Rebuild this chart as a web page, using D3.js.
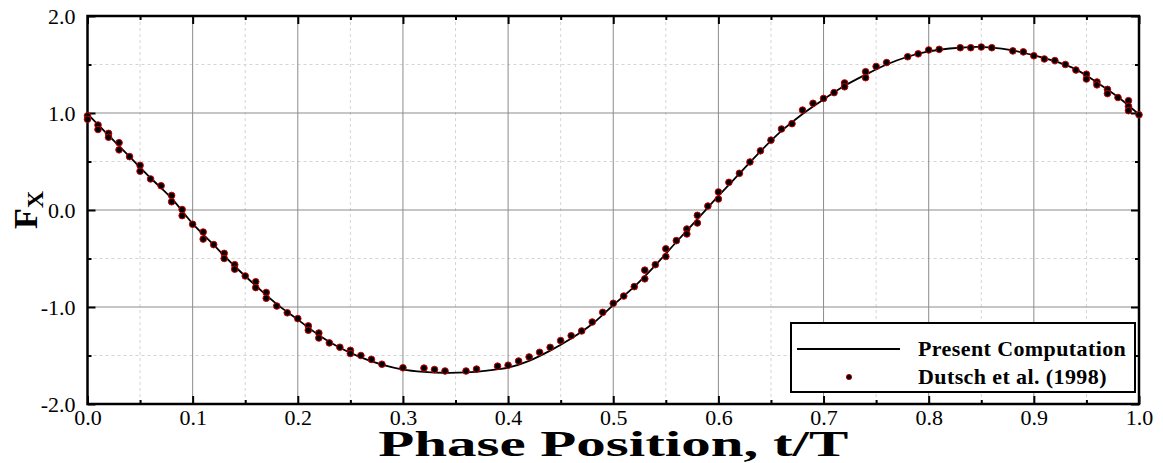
<!DOCTYPE html>
<html>
<head>
<meta charset="utf-8">
<script src="https://cdn.jsdelivr.net/npm/d3@7"></script>
<style>
  body { margin: 0; background: #fff; }
  svg { display: block; font-family: "Liberation Serif", "Times New Roman", serif; }
  .grid-major line { stroke: #8c8c8c; stroke-width: 1; }
  .grid-minor line { stroke: #d4d4d4; stroke-width: 1; stroke-dasharray: 3,3; }
</style>
</head>
<body>
<svg id="chart" width="1163" height="463"></svg>
<script>
// Present computation (solid line)
const curveT = [0, 0.02, 0.04, 0.06, 0.08, 0.10, 0.12, 0.14, 0.16, 0.18,
  0.20, 0.22, 0.24, 0.26, 0.28, 0.30, 0.32, 0.34, 0.36, 0.38,
  0.40, 0.42, 0.44, 0.46, 0.48, 0.50, 0.52, 0.54, 0.56, 0.58,
  0.60, 0.62, 0.64, 0.66, 0.68, 0.70, 0.72, 0.74, 0.76, 0.78,
  0.80, 0.82, 0.84, 0.86, 0.88, 0.90, 0.92, 0.94, 0.96, 0.98, 1.00];
const curveF = [0.99, 0.77, 0.55, 0.33, 0.12, -0.14, -0.36, -0.58, -0.78, -0.97,
  -1.13, -1.29, -1.42, -1.52, -1.595, -1.645, -1.668, -1.678, -1.674, -1.655,
  -1.625, -1.555, -1.45, -1.325, -1.175, -0.98, -0.79, -0.57, -0.33, -0.095,
  0.145, 0.375, 0.605, 0.815, 0.99, 1.14, 1.28, 1.395, 1.50, 1.58,
  1.635, 1.665, 1.68, 1.675, 1.645, 1.595, 1.535, 1.45, 1.315, 1.165, 0.985];

// Dutsch et al. (1998) (symbols)
const expT = [0, 0, 0.01, 0.01, 0.02, 0.02, 0.03, 0.03, 0.04, 0.05, 0.05, 0.06, 0.07, 0.08, 0.08,
  0.09, 0.09, 0.10, 0.11, 0.11, 0.12, 0.13, 0.13, 0.14, 0.14, 0.15, 0.16, 0.16, 0.17, 0.17,
  0.18, 0.19, 0.20, 0.21, 0.21, 0.22, 0.22, 0.23, 0.24, 0.25, 0.25, 0.26, 0.27, 0.28,
  0.30, 0.32, 0.33, 0.34, 0.36, 0.37, 0.39, 0.40, 0.41, 0.42, 0.43, 0.44, 0.45, 0.46,
  0.47, 0.48, 0.49, 0.50, 0.51, 0.52, 0.53, 0.53, 0.54, 0.55, 0.55, 0.56, 0.57, 0.57,
  0.58, 0.58, 0.59, 0.60, 0.60, 0.61, 0.62, 0.63, 0.64, 0.65, 0.66, 0.67, 0.68, 0.69,
  0.70, 0.71, 0.72, 0.72, 0.74, 0.74, 0.75, 0.76, 0.78, 0.79, 0.80, 0.81, 0.83, 0.84,
  0.85, 0.86, 0.88, 0.89, 0.90, 0.91, 0.92, 0.93, 0.94, 0.95, 0.95, 0.96, 0.96, 0.97,
  0.97, 0.98, 0.99, 0.99, 0.99, 1.00];
const expF = [0.97, 0.935, 0.876, 0.83, 0.79, 0.75, 0.694, 0.62, 0.55, 0.46, 0.40, 0.32, 0.25, 0.15, 0.085,
  0.005, -0.058, -0.147, -0.227, -0.30, -0.357, -0.447, -0.50, -0.564, -0.61, -0.68, -0.74, -0.80, -0.85, -0.91,
  -0.99, -1.06, -1.12, -1.195, -1.24, -1.268, -1.32, -1.37, -1.415, -1.447, -1.48, -1.50, -1.54, -1.59,
  -1.627, -1.63, -1.645, -1.66, -1.66, -1.64, -1.61, -1.60, -1.557, -1.515, -1.467, -1.416, -1.347, -1.296,
  -1.247, -1.155, -1.055, -0.962, -0.887, -0.79, -0.62, -0.71, -0.564, -0.40, -0.48, -0.316, -0.196, -0.247,
  -0.055, -0.134, 0.041, 0.186, 0.113, 0.285, 0.378, 0.495, 0.61, 0.72, 0.835, 0.89, 1.03, 1.10,
  1.15, 1.21, 1.31, 1.27, 1.426, 1.364, 1.48, 1.52, 1.58, 1.61, 1.65, 1.656, 1.673, 1.673,
  1.68, 1.673, 1.64, 1.63, 1.59, 1.557, 1.54, 1.50, 1.443, 1.40, 1.35, 1.32, 1.29, 1.244,
  1.20, 1.16, 1.127, 1.07, 1.024, 0.982];

const xTicks = [0, 0.1, 0.2, 0.3, 0.4, 0.5, 0.6, 0.7, 0.8, 0.9, 1.0];
const xMinorTicks = [0.05, 0.15, 0.25, 0.35, 0.45, 0.55, 0.65, 0.75, 0.85, 0.95];
const yTicks = [-2, -1, 0, 1, 2];
const yMinorTicks = [-1.5, -0.5, 0.5, 1.5];
const seriesNames = ['Present Computation', 'Dutsch et al. (1998)'];

const pL = 87.5, pR = 1139, pT = 16, pB = 404;
const svg = d3.select('#chart');
const x = d3.scaleLinear().domain([0, 1]).range([pL, pR]);
const y = d3.scaleLinear().domain([-2, 2]).range([pB, pT]);
const fmt = d => d3.format('.1f')(d).replace('\u2212', '-');

// grid
const gMin = svg.append('g').attr('class', 'grid-minor');
gMin.selectAll('line.v').data(xMinorTicks).enter().append('line').attr('class', 'v')
  .attr('x1', d => x(d)).attr('x2', d => x(d)).attr('y1', pT).attr('y2', pB);
gMin.selectAll('line.h').data(yMinorTicks).enter().append('line').attr('class', 'h')
  .attr('x1', pL).attr('x2', pR).attr('y1', d => y(d)).attr('y2', d => y(d));
const gMaj = svg.append('g').attr('class', 'grid-major');
gMaj.selectAll('line.v').data(xTicks.slice(1, -1)).enter().append('line').attr('class', 'v')
  .attr('x1', d => x(d)).attr('x2', d => x(d)).attr('y1', pT).attr('y2', pB);
gMaj.selectAll('line.h').data(yTicks.slice(1, -1)).enter().append('line').attr('class', 'h')
  .attr('x1', pL).attr('x2', pR).attr('y1', d => y(d)).attr('y2', d => y(d));

// axes (ticks pointing inward)
function styleAxis(g) {
  g.select('.domain').remove();
  g.selectAll('.tick line').attr('stroke', '#000').attr('stroke-width', 2);
}
svg.append('g').attr('transform', `translate(0,${pB})`)
  .call(d3.axisBottom(x).tickValues(xTicks).tickFormat(fmt).tickSizeInner(-8).tickSizeOuter(0).tickPadding(5))
  .call(styleAxis);
svg.append('g').attr('transform', `translate(0,${pB})`)
  .call(d3.axisBottom(x).tickValues(xMinorTicks).tickFormat('').tickSizeInner(-4).tickSizeOuter(0))
  .call(styleAxis);
svg.append('g').attr('transform', `translate(0,${pT})`)
  .call(d3.axisTop(x).tickValues(xTicks).tickFormat('').tickSizeInner(-8).tickSizeOuter(0))
  .call(styleAxis);
svg.append('g').attr('transform', `translate(0,${pT})`)
  .call(d3.axisTop(x).tickValues(xMinorTicks).tickFormat('').tickSizeInner(-4).tickSizeOuter(0))
  .call(styleAxis);
svg.append('g').attr('transform', `translate(${pL},0)`)
  .call(d3.axisLeft(y).tickValues(yTicks).tickFormat(fmt).tickSizeInner(-8).tickSizeOuter(0).tickPadding(12))
  .call(styleAxis);
svg.append('g').attr('transform', `translate(${pL},0)`)
  .call(d3.axisLeft(y).tickValues(yMinorTicks).tickFormat('').tickSizeInner(-4).tickSizeOuter(0))
  .call(styleAxis);
svg.append('g').attr('transform', `translate(${pR},0)`)
  .call(d3.axisRight(y).tickValues(yTicks).tickFormat('').tickSizeInner(-8).tickSizeOuter(0))
  .call(styleAxis);
svg.append('g').attr('transform', `translate(${pR},0)`)
  .call(d3.axisRight(y).tickValues(yMinorTicks).tickFormat('').tickSizeInner(-4).tickSizeOuter(0))
  .call(styleAxis);
svg.selectAll('.tick text').attr('font-family', '"Liberation Serif", serif')
  .attr('font-size', 22).attr('fill', '#000');

// frame
svg.append('rect').attr('x', pL).attr('y', pT).attr('width', pR - pL).attr('height', pB - pT)
  .attr('fill', 'none').attr('stroke', '#000').attr('stroke-width', 2.5);

// curve
const curvePts = curveT.map((t, i) => [t, curveF[i]]);
svg.append('path').datum(curvePts)
  .attr('fill', 'none').attr('stroke', '#000').attr('stroke-width', 1.8)
  .attr('d', d3.line().x(d => x(d[0])).y(d => y(d[1])).curve(d3.curveCatmullRom));

// symbols
const expPts = expT.map((t, i) => [t, expF[i]]);
svg.append('g').selectAll('circle').data(expPts).enter().append('circle')
  .attr('cx', d => x(d[0])).attr('cy', d => y(d[1])).attr('r', 3.3)
  .attr('fill', '#000').attr('stroke', '#d00000').attr('stroke-width', 1);

// legend
const lg = svg.append('g');
lg.append('rect').attr('x', 791).attr('y', 323).attr('width', 344).attr('height', 69)
  .attr('fill', '#fff').attr('stroke', '#000').attr('stroke-width', 2);
lg.append('line').attr('x1', 797).attr('x2', 900).attr('y1', 349).attr('y2', 349)
  .attr('stroke', '#000').attr('stroke-width', 2);
lg.append('circle').attr('cx', 849).attr('cy', 377).attr('r', 2.6)
  .attr('fill', '#000').attr('stroke', '#b00000').attr('stroke-width', 1);
lg.selectAll('text').data(seriesNames).enter().append('text')
  .attr('x', 918).attr('y', (d, i) => 356 + i * 28)
  .attr('font-size', 22).attr('letter-spacing', 0.4).attr('font-weight', 'bold').text(d => d);

// axis titles
svg.append('text').attr('x', (pL + pR) / 2).attr('y', 456).attr('text-anchor', 'middle')
  .attr('font-size', 35).attr('font-weight', 'bold')
  .attr('textLength', 470).attr('lengthAdjust', 'spacingAndGlyphs')
  .text('Phase Position, t/T');
const yt = svg.append('text').attr('transform', 'translate(37,210) rotate(-90)')
  .attr('text-anchor', 'middle').attr('font-weight', 'bold');
yt.append('tspan').attr('font-size', 34).text('F');
yt.append('tspan').attr('font-size', 24).attr('dy', 6).text('X');
</script>
</body>
</html>
